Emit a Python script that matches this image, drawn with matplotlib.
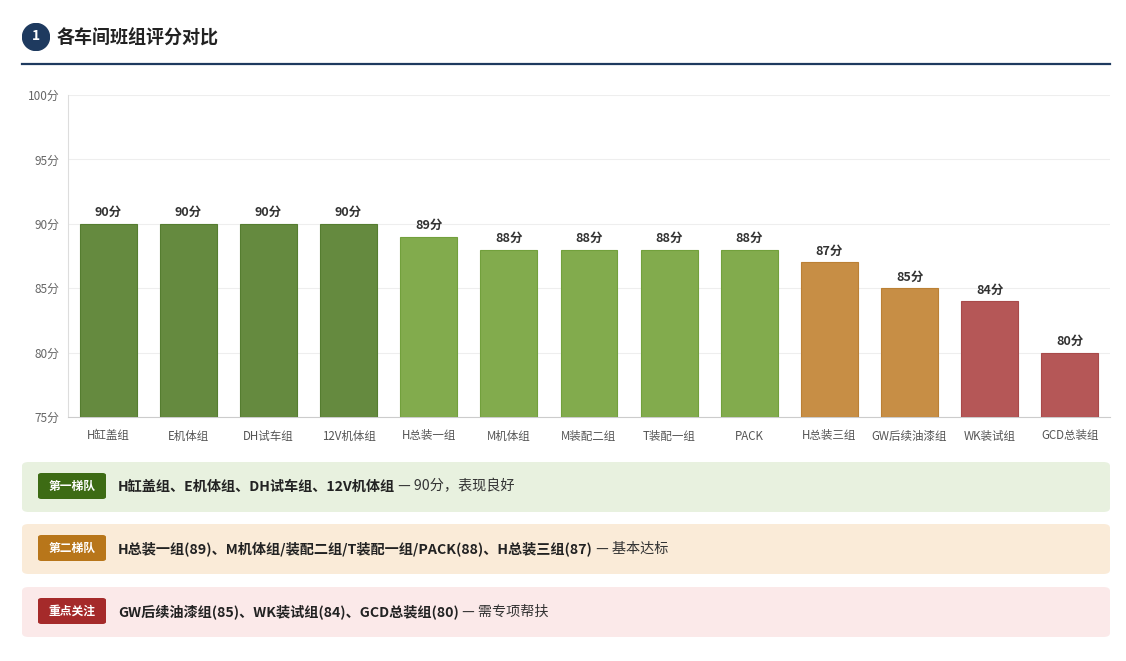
import matplotlib
matplotlib.use("Agg")
import matplotlib.pyplot as plt
from matplotlib.patches import FancyBboxPatch, Circle
from matplotlib.lines import Line2D

plt.rcParams['font.family'] = ['Noto Sans CJK SC', 'DejaVu Sans']

categories = ["H缸盖组", "E机体组", "DH试车组", "12V机体组", "H总装一组", "M机体组",
              "M装配二组", "T装配一组", "PACK", "H总装三组", "GW后续油漆组", "WK装试组", "GCD总装组"]
scores = [90, 90, 90, 90, 89, 88, 88, 88, 88, 87, 85, 84, 80]
tiers = [0, 0, 0, 0, 1, 1, 1, 1, 1, 2, 2, 3, 3]
tier_colors = ["#658a3f", "#82ab4d", "#c78e45", "#b55757"]
tier_edges = ["#557d30", "#72a03c", "#bb8035", "#a84a4a"]
yticks = [75, 80, 85, 90, 95, 100]

title = "各车间班组评分对比"
notes = [
    ("第一梯队", "H缸盖组、E机体组、DH试车组、12V机体组", " — 90分，表现良好", "#e8f1df", "#3d6b14"),
    ("第二梯队", "H总装一组(89)、M机体组/装配二组/T装配一组/PACK(88)、H总装三组(87)", " — 基本达标", "#faebd8", "#b8761a"),
    ("重点关注", "GW后续油漆组(85)、WK装试组(84)、GCD总装组(80)", " — 需专项帮扶", "#fbe9e9", "#a52a2a"),
]

W, H = 1126, 661
fig = plt.figure(figsize=(W / 100, H / 100), dpi=100)

def fx(x):
    return x / W

def fy(y):
    return 1 - y / H

# chart axes
ax = fig.add_axes([fx(68), fy(417), fx(1110) - fx(68), fy(95) - fy(417)])
x = range(len(categories))
ax.bar(x, [s - 75 for s in scores], bottom=75, width=0.71,
       color=[tier_colors[t] for t in tiers],
       edgecolor=[tier_edges[t] for t in tiers], linewidth=0.8, zorder=3)
for i, s in enumerate(scores):
    ax.text(i, s + 0.35, f"{s}分", ha="center", va="bottom", fontsize=9,
            fontweight="bold", color="#333333", zorder=4)
ax.set_ylim(75, 100)
ax.set_xlim(-0.5, len(categories) - 0.5)
ax.set_yticks(yticks)
ax.set_yticklabels([f"{v}分" for v in yticks], fontsize=8.5, color="#666666")
ax.set_xticks(list(x))
ax.set_xticklabels(categories, fontsize=8.3, color="#555555")
ax.tick_params(axis="both", length=0, pad=6)
ax.tick_params(axis="x", pad=9)
ax.grid(axis="y", color="#eeeeee", linewidth=0.8, zorder=0)
for side in ["top", "right"]:
    ax.spines[side].set_visible(False)
ax.spines["left"].set_color("#dddddd")
ax.spines["bottom"].set_color("#cccccc")

# header
cax = fig.add_axes([fx(22), fy(51), fx(28), fy(23) - fy(51)])
cax.set_xlim(0, 28); cax.set_ylim(0, 28); cax.axis("off")
cax.add_patch(Circle((14, 14), 13.5, color="#1e3a5f"))
cax.text(14, 14.5, "1", ha="center", va="center", color="white", fontsize=10, fontweight="bold")
fig.text(fx(57), fy(38), title, fontsize=13, fontweight="bold", color="#222222",
         ha="left", va="center")
fig.add_artist(Line2D([fx(22), fx(1110)], [fy(63.5), fy(63.5)], color="#1e3a5f",
                      linewidth=1.6, transform=fig.transFigure))

renderer = fig.canvas.get_renderer()
tops = [462, 524, 587]
for (badge, bold, rest, bg, bc), top in zip(notes, tops):
    box = FancyBboxPatch((fx(22), fy(top + 50)), fx(1110) - fx(22), fy(top) - fy(top + 50),
                         boxstyle="round,pad=0,rounding_size=0.006", transform=fig.transFigure,
                         facecolor=bg, edgecolor="none")
    fig.patches.append(box)
    b = FancyBboxPatch((fx(38), fy(top + 37)), fx(106) - fx(38), fy(top + 11) - fy(top + 37),
                       boxstyle="round,pad=0,rounding_size=0.003", transform=fig.transFigure,
                       facecolor=bc, edgecolor="none")
    fig.patches.append(b)
    cy = fy(top + 24.5)
    fig.text(fx(72), cy, badge, ha="center", va="center", color="white",
             fontsize=8.5, fontweight="bold")
    t1 = fig.text(fx(118), cy, bold, ha="left", va="center", color="#222222",
                  fontsize=10.2, fontweight="bold")
    bb = t1.get_window_extent(renderer=renderer)
    fig.text(bb.x1 / W, cy, rest, ha="left", va="center", color="#333333", fontsize=10.2)

fig.savefig("out.png", dpi=100, facecolor="white")
